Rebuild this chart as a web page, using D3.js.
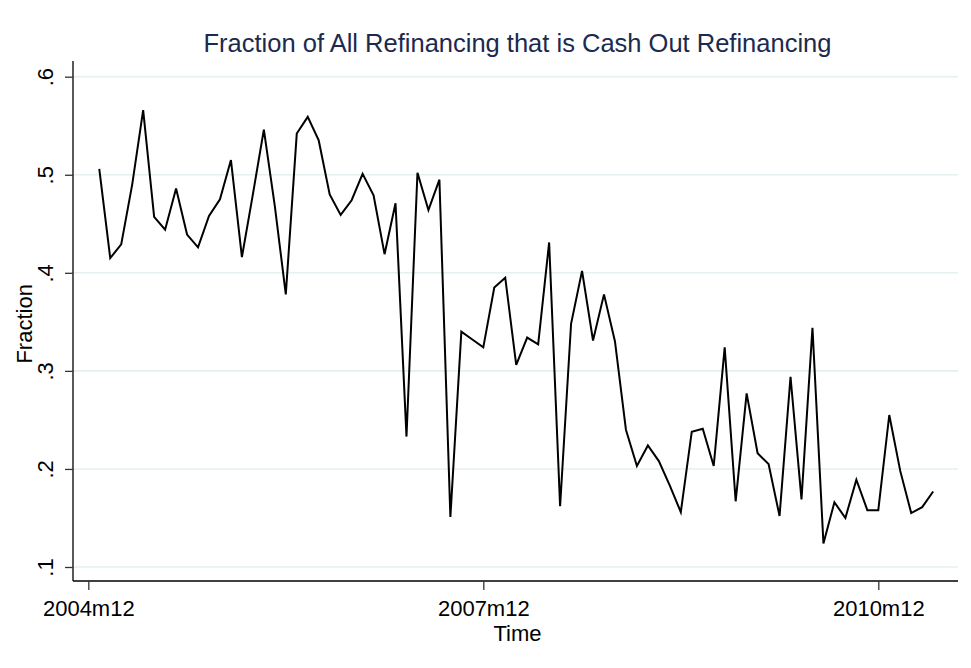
<!DOCTYPE html>
<html>
<head>
<meta charset="utf-8">
<script src="https://cdn.jsdelivr.net/npm/d3@7"></script>
<style>
  body { margin: 0; background: #fff; }
  text { font-family: Arial, "Liberation Sans", sans-serif; }
</style>
</head>
<body>
<div id="graph"></div>
<script>
// monthly series starting 2005m1 (month index 1 = 2005m1, 0 = 2004m12)
let startMonth = 1;
let fraction = [
    0.506, 0.415, 0.429, 0.490, 0.566, 0.457, 0.444, 0.486, 0.439, 0.426, 0.458, 0.475,
    0.515, 0.416, 0.480, 0.546, 0.468, 0.378, 0.542, 0.559, 0.535, 0.480, 0.459, 0.474,
    0.501, 0.479, 0.419, 0.471, 0.233, 0.502, 0.464, 0.495, 0.151, 0.340, 0.332, 0.324,
    0.385, 0.395, 0.306, 0.334, 0.327, 0.431, 0.162, 0.348, 0.402, 0.331, 0.378, 0.330,
    0.240, 0.203, 0.224, 0.208, 0.183, 0.156, 0.238, 0.241, 0.203, 0.324, 0.167, 0.277,
    0.216, 0.205, 0.152, 0.294, 0.169, 0.344, 0.124, 0.166, 0.150, 0.189, 0.158, 0.158,
    0.255, 0.198, 0.155, 0.161, 0.177
];
let yTicks = [0.1, 0.2, 0.3, 0.4, 0.5, 0.6];
let yTickLabels = [".1", ".2", ".3", ".4", ".5", ".6"];
let xTicks = [0, 36, 72];
let xTickLabels = ["2004m12", "2007m12", "2010m12"];

let width = 971, height = 668;
let plot = {left: 73, right: 958, top: 61, bottom: 581};

let svg = d3.select("#graph")
    .append("svg")
    .attr("width", width)
    .attr("height", height);

let data = fraction.map((v, i) => ({m: startMonth + i, v: v}));

// month index -> pixel (ticks at 2004m12 and 2010m12)
let x = d3.scaleLinear()
    .domain([0, 72])
    .range([88.3, 878.3]);

let y = d3.scaleLinear()
    .domain([0.1, 0.6])
    .range([567, 76.7]);

// gridlines
svg.append("g")
    .selectAll("line")
    .data(yTicks)
    .enter()
    .append("line")
    .attr("x1", plot.left)
    .attr("x2", plot.right)
    .attr("y1", d => y(d))
    .attr("y2", d => y(d))
    .attr("stroke", "#e6eff1")
    .attr("stroke-width", 1.6);

// line
svg.append("path")
    .datum(data)
    .attr("fill", "none")
    .attr("stroke", "#000")
    .attr("stroke-width", 2)
    .attr("stroke-linejoin", "miter")
    .attr("d", d3.line().x(d => x(d.m)).y(d => y(d.v)));

// y axis
let yAxis = svg.append("g")
    .attr("transform", `translate(${plot.left},0)`)
    .call(d3.axisLeft(y).tickValues(yTicks).tickSize(8).tickFormat((d, i) => yTickLabels[i]));
yAxis.select(".domain").attr("d", `M0,${plot.top}V${plot.bottom}`).attr("stroke", "#000").attr("stroke-width", 1.3);
yAxis.selectAll(".tick line").attr("stroke", "#333").attr("stroke-width", 1.3);
yAxis.selectAll(".tick text")
    .attr("x", null).attr("dy", null)
    .attr("transform", "translate(-20,0) rotate(-90)")
    .style("text-anchor", "middle")
    .style("font-size", "22px")
    .attr("fill", "#000");

// x axis
let xAxis = svg.append("g")
    .attr("transform", `translate(0,${plot.bottom})`)
    .call(d3.axisBottom(x).tickValues(xTicks).tickSize(9).tickFormat((d, i) => xTickLabels[i]));
xAxis.select(".domain").attr("d", `M${plot.left},0H${plot.right}`).attr("stroke", "#000").attr("stroke-width", 1.3);
xAxis.selectAll(".tick line").attr("stroke", "#333").attr("stroke-width", 1.3);
xAxis.selectAll(".tick text")
    .attr("y", 35).attr("dy", null)
    .style("font-size", "22px")
    .attr("fill", "#000");

// axis titles
svg.append("text")
    .attr("transform", `translate(32, ${(y(0.3) + y(0.4)) / 2 + 2}) rotate(-90)`)
    .style("text-anchor", "middle")
    .style("font-size", "22px")
    .text("Fraction");

svg.append("text")
    .attr("x", (plot.left + plot.right) / 2 + 2)
    .attr("y", 641)
    .style("text-anchor", "middle")
    .style("font-size", "22px")
    .text("Time");

// chart title
svg.append("text")
    .attr("x", (plot.left + plot.right) / 2 + 2)
    .attr("y", 52)
    .style("text-anchor", "middle")
    .style("font-size", "25.5px")
    .attr("fill", "#1c2a4e")
    .text("Fraction of All Refinancing that is Cash Out Refinancing");
</script>
</body>
</html>
